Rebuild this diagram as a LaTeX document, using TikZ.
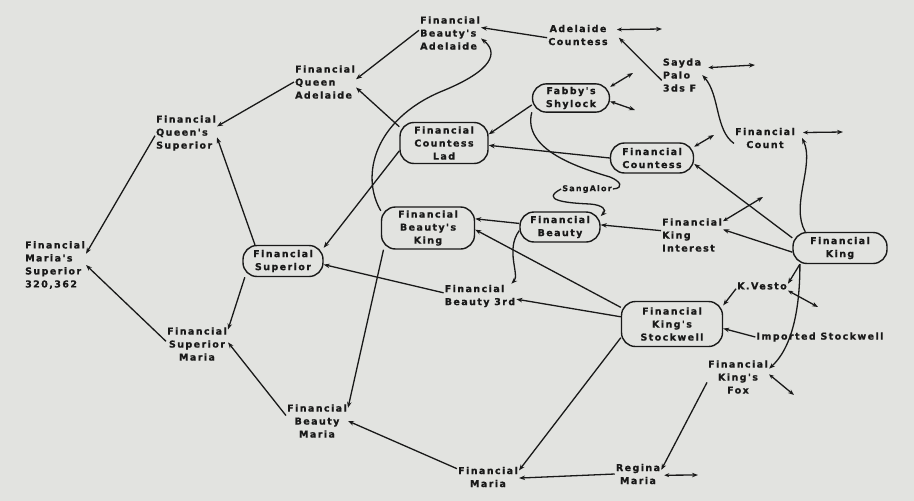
\documentclass[tikz,border=0pt]{standalone}
\usepackage{fontspec}
\newfontfamily\pedfont[LetterSpace=15,BoldFeatures={FakeBold=0.8}]{DejaVu Sans}
\usepackage{tikz}
\usetikzlibrary{arrows.meta}
\definecolor{paper}{RGB}{226,227,224}
\definecolor{ink}{RGB}{25,25,25}

\begin{document}
\begin{tikzpicture}[x=1pt,y=-1pt,
  horse/.style={font=\pedfont\bfseries\fontsize{9.5}{13}\selectfont,align=center,inner sep=1pt,text=ink},
  boxed/.style={horse,draw=ink,line width=1.4pt,rounded corners=14pt,inner sep=3pt},
  link/.style={draw=ink,line width=1.3pt,-{Stealth[length=6pt,width=4.5pt]}},
  stub/.style={draw=ink,line width=1.3pt,{Stealth[length=5pt,width=4pt]}-{Stealth[length=6pt,width=4.5pt]}}]
\fill[paper] (0,0) rectangle (914,501);
\useasboundingbox (0,0) rectangle (914,501);

\node[horse,align=left] (ba) at (450,33) {Financial\\Beauty's\\Adelaide};
\node[horse] (ac) at (578,35) {Adelaide\\Countess};
\node[horse,align=left] (qa) at (325,82) {Financial\\Queen\\Adelaide};
\node[horse,align=left] (qs) at (186,133) {Financial\\Queen's\\Superior};
\node[horse,align=left] (ms) at (55,265) {Financial\\Maria's\\Superior\\320,362};
\node[boxed,minimum width=88pt,minimum height=41pt] (cl) at (444,143) {Financial\\Countess\\Lad};
\node[boxed,minimum width=77pt,minimum height=27pt] (fs) at (571,98) {Fabby's\\Shylock};
\node[boxed,minimum width=83pt,minimum height=30pt] (fc) at (652,158) {Financial\\Countess};
\node[horse,align=left] (sa) at (682,75) {Sayda\\Palo\\3ds F};
\node[horse] (count) at (765,138) {Financial\\Count};
\node[horse,font=\pedfont\bfseries\fontsize{8}{10}\selectfont] (sg) at (587,189) {SangAlor};
\node[boxed,minimum width=80pt,minimum height=30pt] (fb) at (560,227) {Financial\\Beauty};
\node[boxed,minimum width=93pt,minimum height=42pt] (bk) at (428,228) {Financial\\Beauty's\\King};
\node[horse,align=left] (ki) at (692,235) {Financial\\King\\Interest};
\node[boxed,minimum width=94pt,minimum height=31pt] (king) at (840,248) {Financial\\King};
\node[horse] (kv) at (762,286) {K.Vesto};
\node[boxed,minimum width=101pt,minimum height=45pt] (ks) at (672,324) {Financial\\King's\\Stockwell};
\node[horse] (is) at (820,337) {Imported Stockwell};
\node[horse,align=left] (bt) at (480,296) {Financial\\Beauty 3rd};
\node[boxed,minimum width=80pt,minimum height=31pt] (fsup) at (283,261) {Financial\\Superior};
\node[horse] (sm) at (197,344) {Financial\\Superior\\Maria};
\node[horse] (bm) at (317,421) {Financial\\Beauty\\Maria};
\node[horse] (fm) at (488,477) {Financial\\Maria};
\node[horse] (rm) at (638,474) {Regina\\Maria};
\node[horse] (fox) at (738,377) {Financial\\King's\\Fox};

\coordinate (acx) at (662,29);
\coordinate (sax) at (755,65);
\coordinate (countx) at (843,132);
\coordinate (fcx) at (714,135);
\coordinate (fsx1) at (633,73);
\coordinate (fsx2) at (635,110);
\coordinate (kix) at (763,197);
\coordinate (kvx) at (818,307);
\coordinate (foxx) at (794,395);
\coordinate (rmx) at (698,475);

\draw[link] (qs.185) -- (ms.20);
\draw[link] (sm.175) -- (ms.0);
\draw[link] (qa.west) -- (qs.12);
\draw[link] (fsup.150) -- (qs.-8);
\draw[link] (ba.175) -- (qa.5);
\draw[link] (cl.160) -- (qa.-10);
\draw[link] (ac.185) -- (ba.10);
\draw[link] (sa.195) -- ([xshift=10pt]ac.-5);
\draw[link] (count.190) .. controls (715,130) and (720,95) .. (sa.east);
\draw[link] (king.155) .. controls (790,205) and (815,165) .. ([xshift=6pt]count.east);
\draw[link] (king.168) -- (fc.-8);
\draw[link] (king.185) -- (ki.10);
\draw[link] (king.202) -- (kv.5);
\draw[link] (king.202) .. controls (800,300) and (795,345) .. (fox.15);
\draw[link] (kv.186) -- (ks.20);
\draw[link] (is.west) -- (ks.-5);
\draw[link] (fc.west) -- (cl.-3);
\draw[link] (fs.190) -- (cl.11);
\draw[link,-] (fs.200) .. controls (522,150) and (580,168) .. (610,177)
  .. controls (620,181) and (625,188) .. (sg.east);
\draw[link] (sg.west) .. controls (540,200) and (565,203) .. (590,204)
  .. controls (603,205) and (607,210) .. (fb.15);
\draw[link] (ki.172) -- (fb.3);
\draw[link] (fb.175) -- (bk.11);
\draw[link] (fb.185) .. controls (505,250) and (520,275) .. ([xshift=-5pt]bt.north east);
\draw[link] (ks.172) -- (bt.-5);
\draw[link] (ks.162) -- (bk.-2);
\draw[link] (ks.195) -- (fm.12);
\draw[link] (rm.west) -- (fm.-2);
\draw[link] (fox.190) -- (rm.10);
\draw[link] (fm.165) -- (bm.east);
\draw[link] (bk.206) -- (bm.23);
\draw[link] (bm.170) -- (sm.3);
\draw[link] (fsup.203) -- (sm.25);
\draw[link] (bt.175) -- (fsup.-5);
\draw[link] (cl.190) -- (fsup.18);
\draw[link] (bk.160) .. controls (360,175) and (375,120) .. (440,92)
  .. controls (495,70) and (498,52) .. (ba.-10);

\draw[stub] ([xshift=8pt]ac.10) -- (acx);
\draw[stub] ([xshift=6pt]sa.20) -- (sax);
\draw[stub] ([xshift=7pt]count.10) -- (countx);
\draw[stub] (fc.15) -- (fcx);
\draw[stub] (fs.16) -- (fsx1);
\draw[stub] (fs.-5) -- (fsx2);
\draw[stub] (ki.24) -- (kix);
\draw[stub] (kv.-10) -- (kvx);
\draw[stub] (fox.5) -- (foxx);
\draw[stub] ([xshift=3pt]rm.-3) -- (rmx);
\end{tikzpicture}
\end{document}
